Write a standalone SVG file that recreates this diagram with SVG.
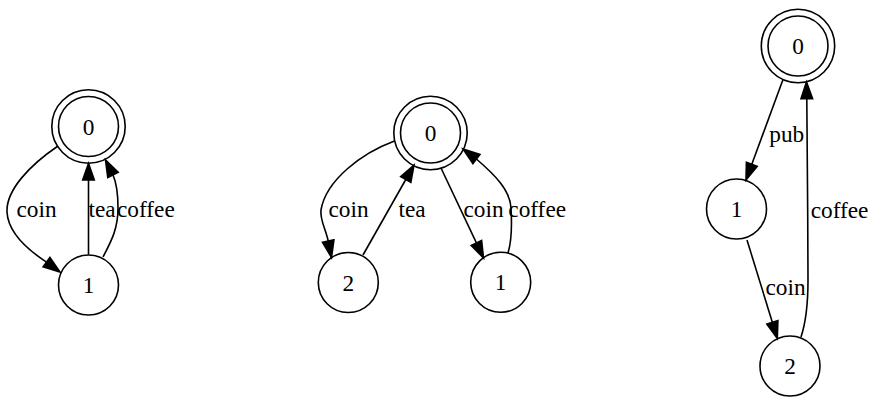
<svg xmlns="http://www.w3.org/2000/svg" width="871" height="399" viewBox="0 0 871 399">
<style>
.n{fill:none;stroke:#000;stroke-width:1.6}
.e{fill:none;stroke:#000;stroke-width:1.6}
.a{fill:#000;stroke:#000;stroke-width:1.6}
text{font-family:"Liberation Serif","Times New Roman",serif;font-size:23.3px;fill:#000}
.c{text-anchor:middle}
</style>
<rect width="871" height="399" fill="#fff"/>
<g id="g1_n0"><circle class="n" cx="88.5" cy="126.5" r="30"/><circle class="n" cx="88.5" cy="126.5" r="36.7"/><text class="c" x="88.5" y="134.5">0</text></g>
<g id="g1_n1"><circle class="n" cx="88.5" cy="285" r="30"/><text class="c" x="88.5" y="293">1</text></g>
<g id="g2_n0"><circle class="n" cx="430.5" cy="133" r="30"/><circle class="n" cx="430.5" cy="133" r="36.7"/><text class="c" x="430.5" y="141">0</text></g>
<g id="g2_n2"><circle class="n" cx="348.3" cy="282.5" r="30"/><text class="c" x="348.3" y="290.5">2</text></g>
<g id="g2_n1"><circle class="n" cx="500.7" cy="282.3" r="30"/><text class="c" x="500.7" y="290.3">1</text></g>
<g id="g3_n0"><circle class="n" cx="798" cy="46" r="30"/><circle class="n" cx="798" cy="46" r="36.7"/><text class="c" x="798" y="54">0</text></g>
<g id="g3_n1"><circle class="n" cx="736.5" cy="209" r="30"/><text class="c" x="736.5" y="217">1</text></g>
<g id="g3_n2"><circle class="n" cx="790" cy="366" r="30"/><text class="c" x="790" y="374">2</text></g>
<g id="edges">
<path class="e" d="M58,146 C30,165 6,190 7,212 C8,232 28,250 46.5,262.1"/>
<polygon class="a" points="49.9,257.4 43.1,266.8 60,272"/>
<text x="16.5" y="217">coin</text>
<path class="e" d="M88.5,254.5 L88.5,180"/>
<polygon class="a" points="82.7,180 94.3,180 88.5,163.5"/>
<text x="88.5" y="217">tea</text>
<path class="e" d="M103,257 C112,240 118,228 118,208 C118,196 117,184 113,175"/>
<polygon class="a" points="118.2,172.3 107.8,177.5 105.5,160"/>
<text x="117" y="217">coffee</text>
<path class="e" d="M394.5,141 C362,153 326,180 321,210 C319.5,219 326,230 328.2,241.1"/>
<polygon class="a" points="333.9,239.9 322.5,242.3 331.5,257.5"/>
<text x="328.5" y="216.5">coin</text>
<path class="e" d="M363,255 L405.8,179.5"/>
<polygon class="a" points="410.8,182.4 400.7,176.7 414,165"/>
<text x="398.5" y="216.5">tea</text>
<path class="e" d="M441,168 L476.4,242.9"/>
<polygon class="a" points="481.6,240.4 471.2,245.4 483.5,258"/>
<text x="463.5" y="216.5">coin</text>
<path class="e" d="M508,253 C512,240 512,225 511,208 C510,190 495,175 476.4,159"/>
<polygon class="a" points="479.9,154.4 472.9,163.6 463,149"/>
<text x="508.3" y="216.5">coffee</text>
<path class="e" d="M783,79.5 L751.8,164.3"/>
<polygon class="a" points="746.4,162.3 757.2,166.3 746,180"/>
<text x="769.3" y="142">pub</text>
<path class="e" d="M747,240 L772.4,322.4"/>
<polygon class="a" points="766.9,324.1 777.9,320.7 777.3,338.3"/>
<text x="765.5" y="295">coin</text>
<path class="e" d="M801,337 C806,322 808,305 808,280 C808,220 807,150 806.8,98.7"/>
<polygon class="a" points="801,98.7 812.6,98.7 806.5,82"/>
<text x="810.7" y="217.5">coffee</text>
</g>
</svg>
